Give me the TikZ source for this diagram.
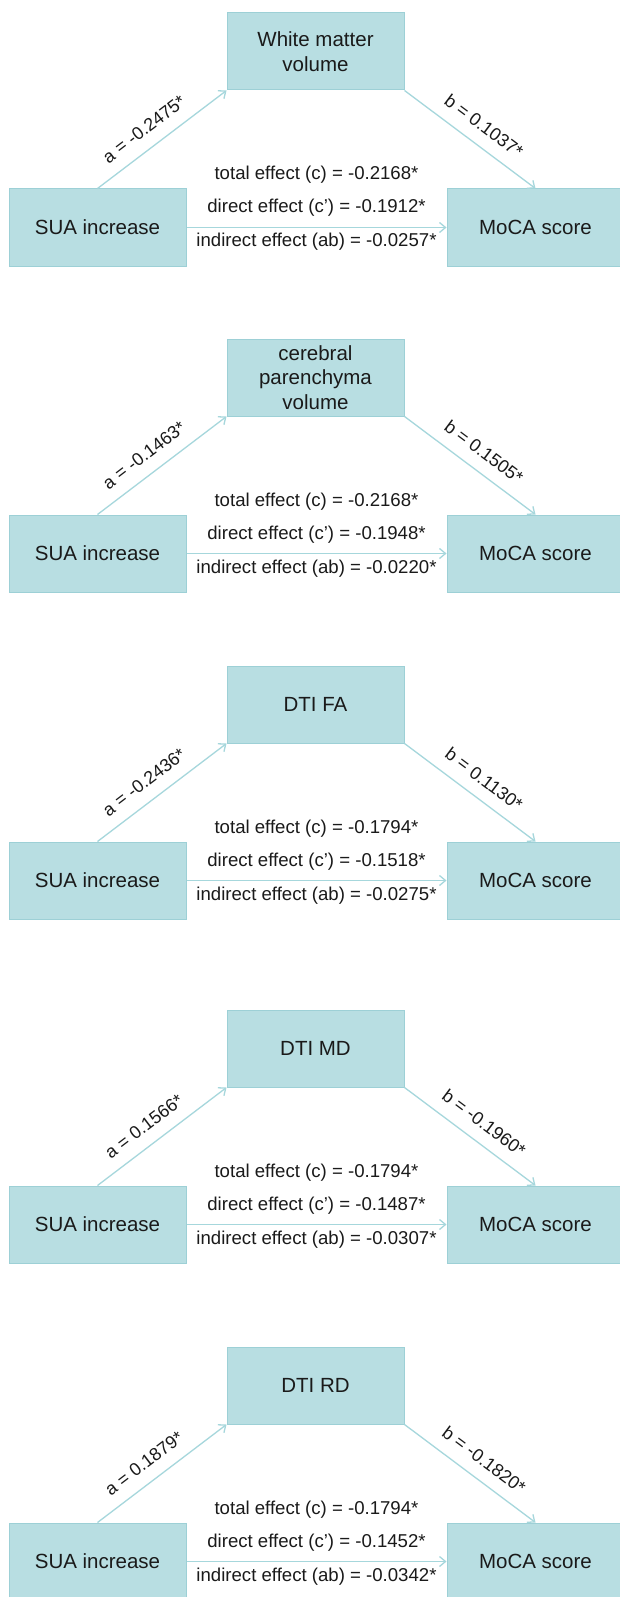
\documentclass[tikz,border=0pt]{standalone}
\usepackage{fontspec}
\setmainfont{Liberation Sans}
\usetikzlibrary{arrows.meta}
\definecolor{boxfill}{HTML}{B8DEE2}
\definecolor{boxline}{HTML}{9DD0D6}
\definecolor{arr}{HTML}{A6D7DC}
\definecolor{txt}{HTML}{1A1A1A}
\begin{document}
\begin{tikzpicture}[x=1pt,y=-1pt,
  mbox/.style={draw=boxline, fill=boxfill, line width=1pt, minimum width=177pt, minimum height=77pt, inner sep=0pt, align=center, text=txt, font=\fontsize{20.5}{24.5}\selectfont},
  conn/.style={draw=arr, line width=1.3pt, -{Straight Barb[length=6pt,width=10pt]}},
  eff/.style={text=txt, font=\fontsize{18.6}{20}\selectfont, inner sep=0pt, anchor=base},
  lab/.style={text=txt, font=\fontsize{18}{20}\selectfont, inner sep=0pt, sloped}]
\fill[white] (0,0) rectangle (620,1597);
\clip (0,0) rectangle (620,1597);
\foreach \i/\ty/\med/\va/\vb/\vc/\vcp/\vab in {
  1/13/{White matter\\volume}/-0.2475/0.1037/-0.2168/-0.1912/-0.0257,
  2/339/{cerebral\\parenchyma\\volume}/-0.1463/0.1505/-0.2168/-0.1948/-0.0220,
  3/666/{DTI FA}/-0.2436/0.1130/-0.1794/-0.1518/-0.0275,
  4/1010/{DTI MD}/0.1566/-0.1960/-0.1794/-0.1487/-0.0307,
  5/1347/{DTI RD}/0.1879/-0.1820/-0.1794/-0.1452/-0.0342}{
  \node[mbox] (m\i) at (315.5,\ty+38.5) {\med};
  \node[mbox] (s\i) at (97.5,\ty+214.5) {SUA increase};
  \node[mbox] (y\i) at (535.5,\ty+214.5) {MoCA score};
  \draw[conn] (s\i.north) -- node[lab, pos=0.45, above=12pt] (la\i) {a = \va*} (m\i.south west);
  \draw[conn] (m\i.south east) -- node[lab, pos=0.52, above=12pt] (lb\i) {b = \vb*} (y\i.north);
  \draw[conn] (s\i.east) -- (y\i.west);
  \node[eff] (tot\i) at (316.5,\ty+167) {total effect (c) = \vc*};
  \node[eff] (dir\i) at (316.5,\ty+200) {direct effect (c’) = \vcp*};
  \node[eff] (ind\i) at (316.5,\ty+234) {indirect effect (ab) = \vab*};
}
\end{tikzpicture}
\end{document}
